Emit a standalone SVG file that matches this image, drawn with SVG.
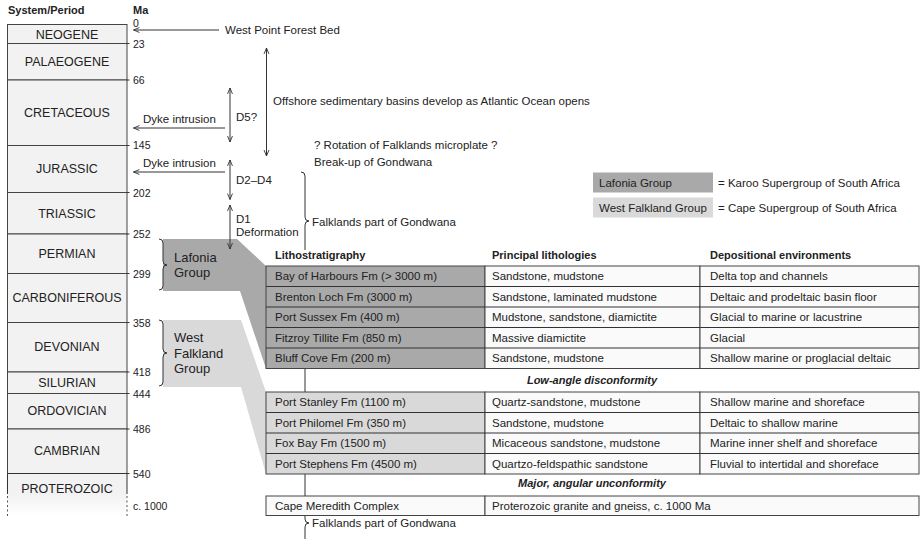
<svg xmlns="http://www.w3.org/2000/svg" width="922" height="539" viewBox="0 0 922 539">
<style>
text{font-family:"Liberation Sans",Arial,sans-serif;fill:#222;}
.hd{font-size:11px;font-weight:bold;}
.per{font-size:12.5px;text-anchor:middle;}
.ma{font-size:10.5px;}
.t{font-size:11.5px;}
.grp{font-size:13px;}
.tc{font-size:11.5px;}
.ital{font-size:11px;font-weight:bold;font-style:italic;text-anchor:middle;}
.box{fill:#f2f2f2;stroke:#444;stroke-width:1;}
.ln{fill:none;stroke:#333;stroke-width:1;}
.arr{fill:none;stroke:#333;stroke-width:1;marker-end:url(#ah);}
.darr{fill:none;stroke:#333;stroke-width:1;marker-start:url(#ah);marker-end:url(#ah);}
.dk{fill:#a9a9a9;}
.lt{fill:#d9d9d9;}
.cell{stroke:#444;stroke-width:1;}
.wh{fill:#fafafa;}
</style>
<defs>
<marker id="ah" viewBox="0 0 10 10" refX="9.5" refY="5" markerWidth="7" markerHeight="7" markerUnits="userSpaceOnUse" orient="auto-start-reverse">
<path d="M1,1.5 L9.5,5 L1,8.5" fill="none" stroke="#333" stroke-width="1.3"/>
</marker>
<linearGradient id="fade" x1="0" y1="0" x2="0" y2="1">
<stop offset="0" stop-color="#f2f2f2"/>
<stop offset="0.5" stop-color="#f2f2f2"/>
<stop offset="1" stop-color="#ffffff"/>
</linearGradient>
</defs>
<rect width="922" height="539" fill="#ffffff"/>

<text class="hd" x="8" y="14">System/Period</text>
<text class="hd" x="133" y="14">Ma</text>

<g id="timescale">
<rect class="box" x="7.5" y="24.5" width="119.5" height="19"/>
<text class="per" x="67" y="38.5">NEOGENE</text>
<rect class="box" x="7.5" y="43.5" width="119.5" height="36.5"/>
<text class="per" x="67" y="66">PALAEOGENE</text>
<rect class="box" x="7.5" y="80" width="119.5" height="65.5"/>
<text class="per" x="67" y="116.5">CRETACEOUS</text>
<rect class="box" x="7.5" y="145.5" width="119.5" height="47"/>
<text class="per" x="67" y="173">JURASSIC</text>
<rect class="box" x="7.5" y="192.5" width="119.5" height="41.5"/>
<text class="per" x="67" y="218">TRIASSIC</text>
<rect class="box" x="7.5" y="234" width="119.5" height="39.5"/>
<text class="per" x="67" y="258">PERMIAN</text>
<rect class="box" x="7.5" y="273.5" width="119.5" height="49"/>
<text class="per" x="67" y="302">CARBONIFEROUS</text>
<rect class="box" x="7.5" y="322.5" width="119.5" height="49.5"/>
<text class="per" x="67" y="351">DEVONIAN</text>
<rect class="box" x="7.5" y="372" width="119.5" height="21.5"/>
<text class="per" x="67" y="387">SILURIAN</text>
<rect class="box" x="7.5" y="393.5" width="119.5" height="35.5"/>
<text class="per" x="67" y="415">ORDOVICIAN</text>
<rect class="box" x="7.5" y="429" width="119.5" height="44.5"/>
<text class="per" x="67" y="455">CAMBRIAN</text>
<rect x="7.5" y="473.5" width="119.5" height="42" fill="url(#fade)"/>
<path class="ln" d="M7.5,473.5 H127 M7.5,473.5 V494 M127,473.5 V494"/>
<path d="M7.5,496 V516 M127,496 V516" fill="none" stroke="#555" stroke-width="1" stroke-dasharray="2,2.5"/>
<text class="per" x="67" y="493">PROTEROZOIC</text>
<path class="ln" d="M127,43.5 H129.5 M127,80 H129.5 M127,145.5 H129.5 M127,192.5 H129.5 M127,234 H129.5 M127,273.5 H129.5 M127,322.5 H129.5 M127,372 H129.5 M127,393.5 H129.5 M127,429 H129.5 M127,473.5 H129.5"/>
<text class="ma" x="133" y="27">0</text>
<text class="ma" x="133" y="47.5">23</text>
<text class="ma" x="133" y="84">66</text>
<text class="ma" x="133" y="149">145</text>
<text class="ma" x="133" y="196.5">202</text>
<text class="ma" x="133" y="238">252</text>
<text class="ma" x="133" y="277.5">299</text>
<text class="ma" x="133" y="326.5">358</text>
<text class="ma" x="133" y="376">418</text>
<text class="ma" x="133" y="397.5">444</text>
<text class="ma" x="133" y="433">486</text>
<text class="ma" x="133" y="477.5">540</text>
<text class="ma" x="133" y="510">c. 1000</text>
</g>

<g id="bands">
<path class="dk" d="M163,239 L237,239 L266,266 L266,368.5 L240,291 L163,291 Z"/>
<path class="lt" d="M163,320 L241,320 L266,392 L266,474 L241,387 L163,387 Z"/>
</g>

<g id="connectors">
<path class="arr" d="M219,30 H133.5"/>
<path class="arr" d="M225,128 H133.5"/>
<path class="arr" d="M225,172 H133.5"/>
<path class="darr" d="M230,88 V142"/>
<path class="darr" d="M230,160 V199.5"/>
<path class="darr" d="M230,205 V249"/>
<path class="darr" d="M266.5,48 V156"/>
<path class="ln" d="M301,172 Q305,172 305,176 L305,217 Q305,221 309,221 Q305,221 305,225 L305,250"/>
<path class="ln" d="M159,239 Q163,239 163,243 L163,261 Q163,265 167,265 Q163,265 163,269 L163,286 Q163,290 159,290"/>
<path class="ln" d="M159,320 Q163,320 163,324 L163,349 Q163,353 167,353 Q163,353 163,357 L163,382 Q163,386 159,386"/>
<path class="ln" d="M305,368.5 V392 M305,474 V496"/>
<path class="ln" d="M305,515.5 L305,519 Q305,523 309,523 Q305,523 305,527 L305,539"/>
</g>

<g id="labels">
<text class="t" x="225" y="34">West Point Forest Bed</text>
<text class="t" x="143" y="123">Dyke intrusion</text>
<text class="t" x="143" y="166.5">Dyke intrusion</text>
<text class="t" x="236" y="120.5">D5?</text>
<text class="t" x="236" y="184">D2–D4</text>
<text class="t" x="236" y="222.5">D1</text>
<text class="t" x="236" y="236">Deformation</text>
<text class="t" x="273" y="105">Offshore sedimentary basins develop as Atlantic Ocean opens</text>
<text class="t" x="314" y="148.5">? Rotation of Falklands microplate ?</text>
<text class="t" x="314" y="166">Break-up of Gondwana</text>
<text class="t" x="312" y="225.5">Falklands part of Gondwana</text>
<text class="t" x="312" y="527">Falklands part of Gondwana</text>
<text class="grp" x="174" y="262">Lafonia</text>
<text class="grp" x="174" y="277">Group</text>
<text class="grp" x="174" y="342">West</text>
<text class="grp" x="174" y="357.5">Falkland</text>
<text class="grp" x="174" y="373">Group</text>
</g>

<g id="legend">
<rect class="dk" x="593" y="172.5" width="120" height="20"/>
<text class="t" x="599" y="186.5">Lafonia Group</text>
<text class="t" x="718" y="186.5">= Karoo Supergroup of South Africa</text>
<rect class="lt" x="593" y="197.5" width="120" height="20"/>
<text class="t" x="599" y="211.5">West Falkland Group</text>
<text class="t" x="718" y="211.5">= Cape Supergroup of South Africa</text>
</g>

<g id="table-header">
<text class="hd" x="275" y="259">Lithostratigraphy</text>
<text class="hd" x="492" y="259">Principal lithologies</text>
<text class="hd" x="710" y="259">Depositional environments</text>
</g>

<g id="lafonia-table">
<rect class="dk cell" x="266" y="266" width="219" height="102.5"/>
<rect class="wh cell" x="485" y="266" width="215" height="102.5"/>
<rect class="wh cell" x="700" y="266" width="219" height="102.5"/>
<path class="ln" d="M266,286.5 H919 M266,307 H919 M266,327.5 H919 M266,348 H919"/>
<text class="tc" x="275" y="280">Bay of Harbours Fm (&gt; 3000 m)</text>
<text class="tc" x="492" y="280">Sandstone, mudstone</text>
<text class="tc" x="710" y="280">Delta top and channels</text>
<text class="tc" x="275" y="300.5">Brenton Loch Fm (3000 m)</text>
<text class="tc" x="492" y="300.5">Sandstone, laminated mudstone</text>
<text class="tc" x="710" y="300.5">Deltaic and prodeltaic basin floor</text>
<text class="tc" x="275" y="321">Port Sussex Fm (400 m)</text>
<text class="tc" x="492" y="321">Mudstone, sandstone, diamictite</text>
<text class="tc" x="710" y="321">Glacial to marine or lacustrine</text>
<text class="tc" x="275" y="341.5">Fitzroy Tillite Fm (850 m)</text>
<text class="tc" x="492" y="341.5">Massive diamictite</text>
<text class="tc" x="710" y="341.5">Glacial</text>
<text class="tc" x="275" y="362">Bluff Cove Fm (200 m)</text>
<text class="tc" x="492" y="362">Sandstone, mudstone</text>
<text class="tc" x="710" y="362">Shallow marine or proglacial deltaic</text>
</g>

<text class="ital" x="592" y="384">Low-angle disconformity</text>

<g id="westfalkland-table">
<rect class="lt cell" x="266" y="392" width="219" height="82"/>
<rect class="wh cell" x="485" y="392" width="215" height="82"/>
<rect class="wh cell" x="700" y="392" width="219" height="82"/>
<path class="ln" d="M266,412.5 H919 M266,433 H919 M266,453.5 H919"/>
<text class="tc" x="275" y="406">Port Stanley Fm (1100 m)</text>
<text class="tc" x="492" y="406">Quartz-sandstone, mudstone</text>
<text class="tc" x="710" y="406">Shallow marine and shoreface</text>
<text class="tc" x="275" y="426.5">Port Philomel Fm (350 m)</text>
<text class="tc" x="492" y="426.5">Sandstone, mudstone</text>
<text class="tc" x="710" y="426.5">Deltaic to shallow marine</text>
<text class="tc" x="275" y="447">Fox Bay Fm (1500 m)</text>
<text class="tc" x="492" y="447">Micaceous sandstone, mudstone</text>
<text class="tc" x="710" y="447">Marine inner shelf and shoreface</text>
<text class="tc" x="275" y="467.5">Port Stephens Fm (4500 m)</text>
<text class="tc" x="492" y="467.5">Quartzo-feldspathic sandstone</text>
<text class="tc" x="710" y="467.5">Fluvial to intertidal and shoreface</text>
</g>

<text class="ital" x="592" y="487">Major, angular unconformity</text>

<g id="cape-meredith">
<rect class="wh cell" x="266" y="496" width="219" height="19.5"/>
<rect class="wh cell" x="485" y="496" width="434" height="19.5"/>
<text class="tc" x="275" y="509.5">Cape Meredith Complex</text>
<text class="tc" x="492" y="509.5">Proterozoic granite and gneiss, c. 1000 Ma</text>
</g>
</svg>
